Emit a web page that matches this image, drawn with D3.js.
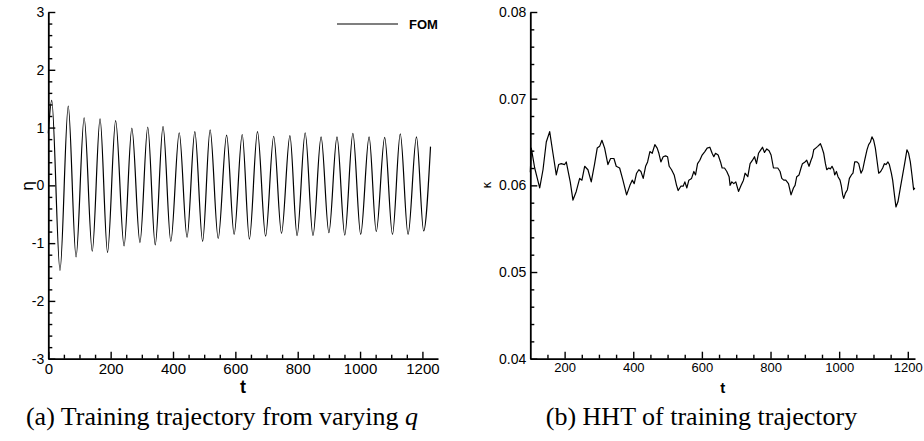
<!DOCTYPE html>
<html>
<head>
<meta charset="utf-8">
<script src="https://cdn.jsdelivr.net/npm/d3@7"></script>
<style>
    body { margin: 0; background: #fff; }
    svg { display: block; }
</style>
</head>
<body>
<div id="chart"></div>
<script>
(() => {
    // (a) eta vs t: start, then alternating peaks / troughs, then end point
    const etaT = [0, 11, 37.5, 64, 89, 115, 141, 166, 190, 216, 243, 268, 294, 319, 343, 368, 393,
        420, 445, 470, 495, 519, 545, 572, 596, 622, 645, 671, 697, 723, 748, 775, 798, 824, 849,
        875, 900, 926, 951, 977, 1002, 1029, 1052, 1079, 1104, 1129, 1154, 1181, 1204, 1226];
    const etaV = [0.9, 1.47, -1.47, 1.37, -1.24, 1.17, -1.14, 1.15, -1.16, 1.12, -1.05, 0.99, -0.99,
        1.01, -1.03, 1.02, -0.97, 0.91, -0.90, 0.93, -0.97, 0.96, -0.92, 0.87, -0.85, 0.88, -0.93,
        0.93, -0.88, 0.85, -0.83, 0.86, -0.87, 0.91, -0.87, 0.84, -0.82, 0.84, -0.86, 0.90, -0.85,
        0.84, -0.80, 0.83, -0.85, 0.89, -0.85, 0.84, -0.79, 0.67];

    // (b) kappa vs t
    const kappaT = [100, 102.9, 112.8, 120.4, 127.4, 137, 146.6, 156.5, 166, 175.7, 182.6, 190.2,
        200, 204.8, 216.4, 224.3, 233.9, 243.8, 250.5, 258.4, 268, 277.6, 287.5, 295, 302, 308.7,
        316.6, 326.2, 334, 343.7, 350.4, 360.3, 369.9, 380.6, 390.3, 397, 402.8, 409.7, 416.4,
        422.3, 429, 436, 441.8, 448.5, 455.2, 463, 469.7, 474.7, 480.5, 487.2, 494.2, 500, 504.7,
        511.6, 519.2, 526.2, 530.9, 538.7, 545.4, 550.4, 556.2, 562, 569.9, 576.6, 581.5, 587.4,
        594, 600.7, 608.6, 615.3, 623.2, 629.8, 634.8, 639.7, 647.4, 654.3, 659, 665.9, 672.6,
        679.3, 682.2, 687.2, 693, 698.8, 706.7, 714.3, 721.2, 725.9, 733.8, 740.5, 747.5, 753.3,
        759.1, 765, 771.6, 776.6, 782.4, 789.1, 795.8, 801.6, 808.6, 813.3, 821.1, 827.8, 832.8,
        838.6, 844.4, 852.3, 859.8, 866.8, 871.5, 876.4, 883.1, 888.9, 893, 900.6, 905.5, 912.2,
        918, 922.1, 925.9, 931.7, 937.6, 945.4, 950.2, 955, 960, 963.8, 969.6, 974.5, 979.2,
        984.1, 987, 992, 996.6, 1002.5, 1006.5, 1010.3, 1013.2, 1018.2, 1024, 1029.8, 1035.7,
        1040.3, 1045.3, 1052, 1056.9, 1063.6, 1068.6, 1074.4, 1081.1, 1086, 1091, 1095.6, 1100.6,
        1105.5, 1110.2, 1115.2, 1121, 1126.8, 1131.7, 1136.4, 1142.2, 1146.3, 1152.1, 1155.9,
        1161.7, 1165.5, 1171.3, 1178.3, 1185, 1190.8, 1197.5, 1202.4, 1207.4, 1212.1, 1217, 1220.5];
    const kappaV = [0.0615, 0.0643, 0.0620, 0.0608, 0.0597, 0.0618, 0.0650, 0.0662, 0.0637, 0.0612,
        0.0624, 0.0625, 0.0624, 0.0627, 0.0604, 0.0583, 0.0593, 0.0608, 0.0606, 0.0622, 0.0618,
        0.0604, 0.0625, 0.0643, 0.0645, 0.0652, 0.0643, 0.0624, 0.0631, 0.0631, 0.0622, 0.0620,
        0.0606, 0.0589, 0.0600, 0.0606, 0.0602, 0.0614, 0.0618, 0.0616, 0.0608, 0.0622, 0.0627,
        0.0639, 0.0637, 0.0647, 0.0643, 0.0637, 0.0627, 0.0633, 0.0634, 0.0633, 0.0622, 0.0618,
        0.0612, 0.0600, 0.0594, 0.0599, 0.0599, 0.0604, 0.0597, 0.0606, 0.0608, 0.0616, 0.0612,
        0.0625, 0.0629, 0.0635, 0.0639, 0.0643, 0.0644, 0.0637, 0.0633, 0.0637, 0.0635, 0.0627,
        0.0620, 0.0620, 0.0616, 0.0610, 0.0600, 0.0604, 0.0602, 0.0604, 0.0593, 0.0600, 0.0606,
        0.0614, 0.0610, 0.0625, 0.0629, 0.0633, 0.0625, 0.0637, 0.0641, 0.0644, 0.0638, 0.0642,
        0.0640, 0.0635, 0.0620, 0.0620, 0.0620, 0.0616, 0.0608, 0.0606, 0.0606, 0.0602, 0.0589,
        0.0597, 0.0600, 0.0610, 0.0612, 0.0620, 0.0625, 0.0627, 0.0629, 0.0622, 0.0629, 0.0633,
        0.0641, 0.0643, 0.0645, 0.0648, 0.0643, 0.0637, 0.0625, 0.0618, 0.0620, 0.0619, 0.0622,
        0.0618, 0.0612, 0.0616, 0.0610, 0.0606, 0.0599, 0.0589, 0.0585, 0.0591, 0.0595, 0.0608,
        0.0612, 0.0614, 0.0627, 0.0627, 0.0625, 0.0614, 0.0618, 0.0629, 0.0641, 0.0647, 0.0650,
        0.0656, 0.0652, 0.0643, 0.0629, 0.0614, 0.0616, 0.0620, 0.0625, 0.0624, 0.0627, 0.0624,
        0.0614, 0.0606, 0.0587, 0.0575, 0.0581, 0.0597, 0.0612, 0.0625, 0.0641, 0.0637, 0.0627,
        0.0612, 0.0595, 0.0597];

    const etaMajor = [-3, -2, -1, 0, 1, 2, 3];
    const tMajorA = [0, 200, 400, 600, 800, 1000, 1200];
    const kappaMajor = [0.04, 0.05, 0.06, 0.07, 0.08];
    const tMajorB = [200, 400, 600, 800, 1000, 1200];

    const sans = 'Liberation Sans, Arial, Helvetica, sans-serif';
    const serif = 'Liberation Serif, Times New Roman, serif';

    const svg = d3.select('#chart')
        .append('svg')
        .attr('width', 924)
        .attr('height', 441);

    function drawAxes(g, x, y, opt) {
        // minor ticks first, then major ticks with labels
        g.append('g')
            .attr('transform', `translate(0,${y.range()[0]})`)
            .call(d3.axisBottom(x).tickValues(opt.xMinor).tickSize(-4).tickFormat('').tickSizeOuter(0))
            .call(s => s.select('.domain').remove());
        g.append('g')
            .attr('transform', `translate(${x.range()[0]},0)`)
            .call(d3.axisLeft(y).tickValues(opt.yMinor).tickSize(-4).tickFormat('').tickSizeOuter(0))
            .call(s => s.select('.domain').remove());

        const xa = g.append('g')
            .attr('transform', `translate(0,${y.range()[0]})`)
            .call(d3.axisBottom(x).tickValues(opt.xMajor).tickSize(-7).tickSizeOuter(0)
                .tickPadding(4.5).tickFormat(d => String(d)));
        xa.selectAll('text').style('font-family', sans).style('font-size', opt.xFont + 'px').attr('fill', '#000');

        const ya = g.append('g')
            .attr('transform', `translate(${x.range()[0]},0)`)
            .call(d3.axisLeft(y).tickValues(opt.yMajor).tickSize(-7).tickSizeOuter(0)
                .tickPadding(4).tickFormat(opt.yFormat));
        ya.selectAll('text').style('font-family', sans).style('font-size', '14px').attr('fill', '#000');

        g.selectAll('.domain').attr('stroke', '#000').attr('stroke-width', 1.8);
        g.selectAll('.tick line').attr('stroke', '#000').attr('stroke-width', 1.4);
    }

    // ---- panel (a)
    const xA = d3.scaleLinear().domain([0, 1250]).range([48.3, 438]);
    const yA = d3.scaleLinear().domain([-3, 3]).range([358.7, 12]);
    const gA = svg.append('g');

    gA.append('path')
        .datum(etaT.map((t, i) => [t, etaV[i]]))
        .attr('fill', 'none')
        .attr('stroke', '#000')
        .attr('stroke-width', 1.2)
        .attr('d', d3.line().x(d => xA(d[0])).y(d => yA(d[1])).curve(d3.curveMonotoneX));

    drawAxes(gA, xA, yA, {
        xMajor: tMajorA,
        xMinor: d3.range(50, 1250, 50).filter(v => v % 200 !== 0),
        yMajor: etaMajor,
        yMinor: d3.range(-28, 30, 2).map(v => v / 10).filter(v => !Number.isInteger(v)),
        yFormat: d => String(d),
        xFont: 15,
    });

    gA.append('text')
        .attr('x', 243).attr('y', 392.5)
        .attr('text-anchor', 'middle')
        .style('font-family', sans).style('font-size', '18px').style('font-weight', 'bold')
        .text('t');

    gA.append('text')
        .attr('transform', 'translate(33,186) rotate(-90)')
        .attr('text-anchor', 'middle')
        .style('font-family', 'DejaVu Sans, sans-serif').style('font-size', '16px')
        .text('η');

    // legend
    gA.append('line')
        .attr('x1', 337).attr('x2', 398).attr('y1', 24).attr('y2', 24)
        .attr('stroke', '#000').attr('stroke-width', 1.2);
    gA.append('text')
        .attr('x', 409).attr('y', 28.5)
        .style('font-family', sans).style('font-size', '13px').style('font-weight', 'bold')
        .text('FOM');

    const capA = gA.append('text')
        .attr('x', 222).attr('y', 425)
        .attr('text-anchor', 'middle')
        .style('font-family', serif).style('font-size', '26px');
    capA.append('tspan').text('(a) Training trajectory from varying ');
    capA.append('tspan').style('font-style', 'italic').text('q');

    // ---- panel (b)
    const xB = d3.scaleLinear().domain([100, 1221]).range([530.3, 915]);
    const yB = d3.scaleLinear().domain([0.04, 0.08]).range([358.7, 12]);
    const gB = svg.append('g');

    gB.append('path')
        .datum(kappaT.map((t, i) => [t, kappaV[i]]))
        .attr('fill', 'none')
        .attr('stroke', '#000')
        .attr('stroke-width', 1.2)
        .attr('stroke-linejoin', 'round')
        .attr('d', d3.line().x(d => xB(d[0])).y(d => yB(d[1])));

    drawAxes(gB, xB, yB, {
        xMajor: tMajorB,
        xMinor: d3.range(150, 1221, 50).filter(v => v % 200 !== 0),
        yMajor: kappaMajor,
        yMinor: d3.range(42, 80, 2).map(v => v / 1000).filter(v => Math.round(v * 1000) % 10 !== 0),
        yFormat: d3.format('.2f'),
        xFont: 13,
    });

    gB.append('text')
        .attr('x', 722.7).attr('y', 392.5)
        .attr('text-anchor', 'middle')
        .style('font-family', sans).style('font-size', '15px').style('font-weight', 'bold')
        .text('t');

    gB.append('text')
        .attr('transform', 'translate(491,185) rotate(-90)')
        .attr('text-anchor', 'middle')
        .style('font-family', 'DejaVu Sans, sans-serif').style('font-size', '12px')
        .text('κ');

    gB.append('text')
        .attr('x', 701.5).attr('y', 425)
        .attr('text-anchor', 'middle')
        .style('font-family', serif).style('font-size', '26px')
        .text('(b) HHT of training trajectory');
})();
</script>
</body>
</html>
